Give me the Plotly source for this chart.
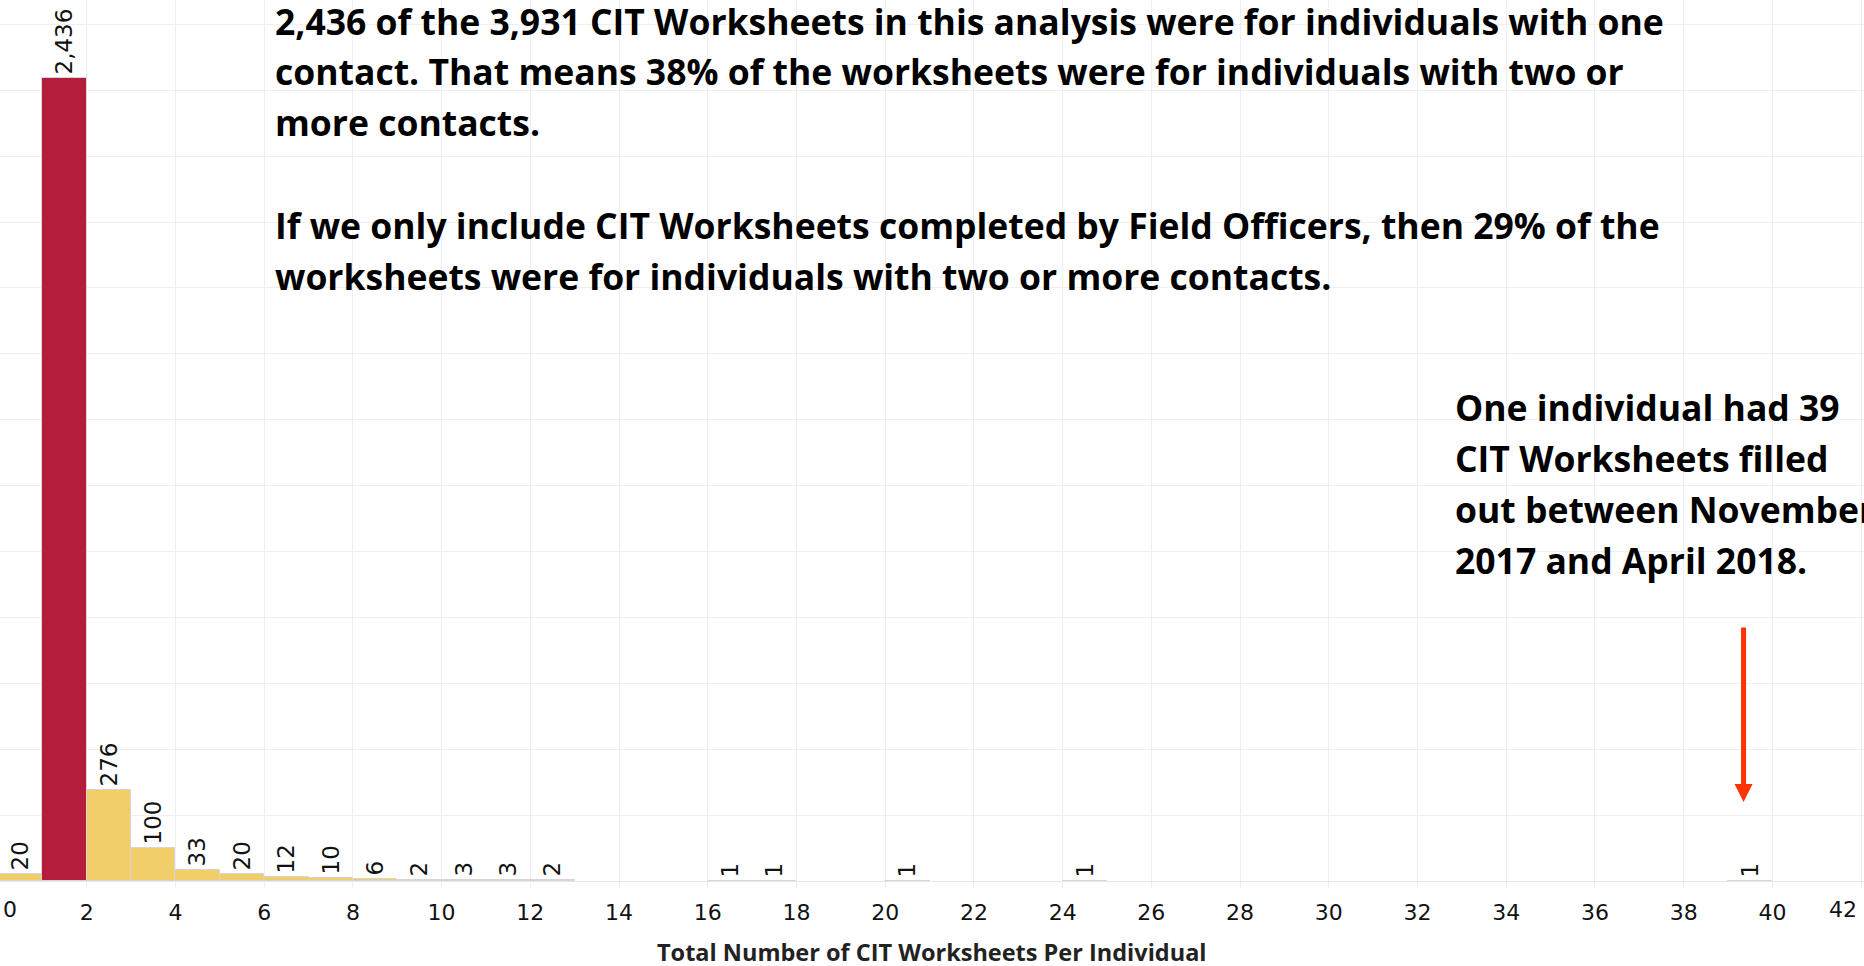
import plotly.graph_objects as go

# ---- data ----
contacts = [0, 1, 2, 3, 4, 5, 6, 7, 8, 9, 10, 11, 12, 16, 17, 20, 24, 39]
individuals = [20, 2436, 276, 100, 33, 20, 12, 10, 6, 2, 3, 3, 2, 1, 1, 1, 1, 1]
highlight_value = 1
x_tick_values = list(range(0, 43, 2))
x_tick_labels = [str(v) for v in x_tick_values]
x_title = "Total Number of CIT Worksheets Per Individual"
main_text_lines = [
    "2,436 of the 3,931 CIT Worksheets in this analysis were for individuals with one",
    "contact. That means 38% of the worksheets were for individuals with two or",
    "more contacts.",
    "",
    "If we only include CIT Worksheets completed by Field Officers, then 29% of the",
    "worksheets were for individuals with two or more contacts.",
]
side_text_lines = [
    "One individual had 39",
    "CIT Worksheets filled",
    "out between November",
    "2017 and April 2018.",
]
arrow_target = 39.35

# ---- styling ----
W, H = 1864, 966
PLOT_BOTTOM_PX = 881
RED = "#B41E3C"
YELLOW = "#F1CE6A"
GRID = "#EFEFEF"
LABEL_FONT = "DejaVu Sans"
TEXT_FONT = "Open Sans"
TEXT_SIZE = 35.5

colors = [RED if c == highlight_value else YELLOW for c in contacts]
centers = [c + 0.5 for c in contacts]

fig = go.Figure()
fig.add_trace(go.Bar(
    x=centers,
    y=individuals,
    width=[1.0] * len(contacts),
    marker=dict(color=colors, line=dict(color="#D6D6D6", width=1)),
    texttemplate="%{y:,}",
    textposition="outside",
    textangle=-90,
    constraintext="none",
    cliponaxis=False,
    textfont=dict(family=LABEL_FONT, size=23, color="#111111"),
    hoverinfo="skip",
))

y_top = 2674
x_range = [0.045, 42.065]

def px_to_paper_y(py):
    return (PLOT_BOTTOM_PX - py) / PLOT_BOTTOM_PX

annotations = []
main_y_px = [21, 71, 122, 173, 225, 276]
for line, py in zip(main_text_lines, main_y_px):
    if not line:
        continue
    annotations.append(dict(
        text="<b>" + line + "</b>", xref="paper", yref="paper",
        x=273 / W, y=px_to_paper_y(py), xanchor="left", yanchor="middle",
        showarrow=False, font=dict(family=TEXT_FONT, size=TEXT_SIZE, color="#000000"),
    ))
side_y_px = [407, 458, 509, 560]
for line, py in zip(side_text_lines, side_y_px):
    annotations.append(dict(
        text="<b>" + line + "</b>", xref="paper", yref="paper",
        x=1453 / W, y=px_to_paper_y(py), xanchor="left", yanchor="middle",
        showarrow=False, font=dict(family=TEXT_FONT, size=TEXT_SIZE, color="#000000"),
    ))
annotations.append(dict(
    x=arrow_target, y=(PLOT_BOTTOM_PX - 802) / PLOT_BOTTOM_PX * y_top,
    ax=arrow_target, ay=(PLOT_BOTTOM_PX - 626) / PLOT_BOTTOM_PX * y_top,
    xref="x", yref="y", axref="x", ayref="y", text="",
    showarrow=True, arrowhead=2, arrowwidth=5, arrowsize=0.72, arrowcolor="#FF3300",
))
annotations.append(dict(text=x_tick_labels[0], xref="paper", yref="paper",
                        x=10 / W, y=px_to_paper_y(910), xanchor="center", yanchor="middle",
                        showarrow=False, font=dict(family=LABEL_FONT, size=22, color="#111111")))
annotations.append(dict(text=x_tick_labels[-1], xref="paper", yref="paper",
                        x=1843 / W, y=px_to_paper_y(910), xanchor="center", yanchor="middle",
                        showarrow=False, font=dict(family=LABEL_FONT, size=22, color="#111111")))
annotations.append(dict(text="<b>" + x_title + "</b>", xref="paper", yref="paper",
                        x=932 / W, y=px_to_paper_y(952), xanchor="center", yanchor="middle",
                        showarrow=False, font=dict(family="Open Sans", size=23.5, color="#222222")))

tick_text = [""] + x_tick_labels[1:-1] + [""]

fig.update_layout(
    width=W, height=H,
    margin=dict(l=0, r=0, t=0, b=H - PLOT_BOTTOM_PX),
    paper_bgcolor="white", plot_bgcolor="white",
    showlegend=False, bargap=0,
    annotations=annotations,
    xaxis=dict(
        range=x_range, tickvals=x_tick_values, ticktext=tick_text,
        showgrid=True, gridcolor=GRID, gridwidth=1,
        zeroline=False, showline=False,
        ticks="outside", ticklen=6, tickcolor=GRID,
        ticklabelstandoff=6,
        tickfont=dict(family=LABEL_FONT, size=22, color="#111111"),
    ),
    yaxis=dict(
        range=[0, y_top], dtick=200, showgrid=True, gridcolor=GRID, gridwidth=1,
        zeroline=True, zerolinecolor="#E6E6E6", zerolinewidth=1,
        showticklabels=False, showline=False, ticks="",
    ),
)

fig.write_html(
    "out.html",
    config={"displayModeBar": False},
    post_script="document.body.style.margin='0';document.body.style.overflow='hidden';",
)
